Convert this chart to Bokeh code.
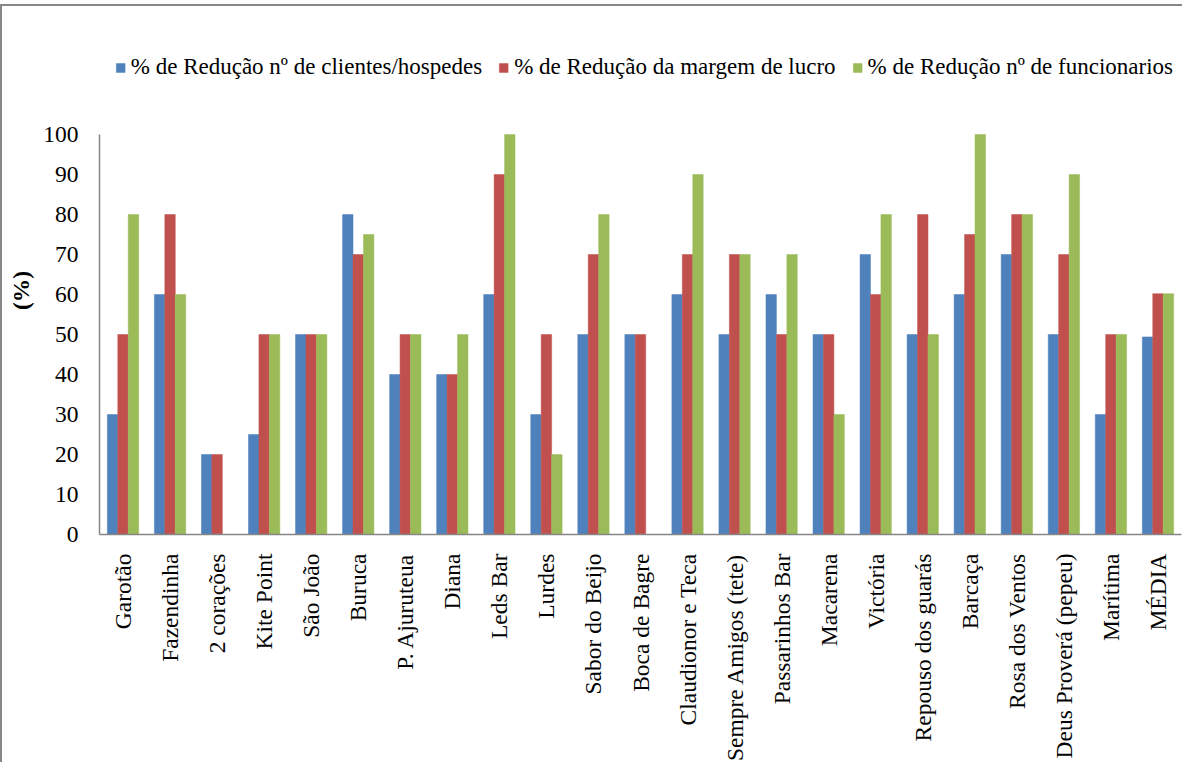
import math
from bokeh.plotting import figure
from bokeh.models import FactorRange, Range1d, Legend, LegendItem
from bokeh.transform import dodge
from bokeh.embed import file_html
from bokeh.resources import INLINE

categories = ["Garotão", "Fazendinha", "2 corações", "Kite Point", "São João", "Buruca",
              "P. Ajuruteua", "Diana", "Leds Bar", "Lurdes", "Sabor do Beijo", "Boca de Bagre",
              "Claudionor e Teca", "Sempre Amigos (tete)", "Passarinhos Bar", "Macarena",
              "Victória", "Repouso dos guarás", "Barcaça", "Rosa dos Ventos",
              "Deus Proverá (pepeu)", "Marítima", "MÉDIA"]
clientes = [30, 60, 20, 25, 50, 80, 40, 40, 60, 30, 50, 50, 60, 50, 60, 50, 70, 50, 60, 70, 50, 30, 49.4]
lucro = [50, 80, 20, 50, 50, 70, 50, 40, 90, 50, 70, 50, 70, 70, 50, 50, 60, 80, 75, 80, 70, 50, 60.2]
funcionarios = [80, 60, 0, 50, 50, 75, 50, 50, 100, 20, 80, 0, 90, 70, 70, 30, 80, 50, 100, 80, 90, 50, 60.2]
series_names = ["% de Redução nº de clientes/hospedes",
                "% de Redução da margem de lucro",
                "% de Redução nº de funcionarios"]
colors = ["#4F81BD", "#C0504D", "#9BBB59"]
y_ticks = list(range(0, 101, 10))

FONT = "serif"
FS = "23.5px"
data = dict(cat=categories, a=clientes, b=lucro, c=funcionarios)

# frame extends above 100 to leave room for the legend inside the plot area
p = figure(x_range=FactorRange(*categories, range_padding=0), y_range=Range1d(0, 122),
           frame_width=1082, frame_height=488, output_backend="svg", toolbar_location=None,
           min_border_left=97, min_border_right=1, min_border_top=40, min_border_bottom=212)

bw = 0.222
rs = []
for key, off, col in zip(["a", "b", "c"], [-bw, 0, bw], colors):
    r = p.vbar(x=dodge("cat", off, range=p.x_range), top=key, width=bw, bottom=0,
               source=data, fill_color=col, line_color=col, line_width=0.5)
    rs.append(r)

p.xgrid.grid_line_color = None
p.ygrid.grid_line_color = None
p.outline_line_color = None
p.background_fill_color = "white"
p.border_fill_color = "white"

p.yaxis.ticker = y_ticks
p.yaxis.bounds = (0, 100)
p.yaxis.axis_line_color = "#868686"
p.yaxis.axis_line_width = 1.5
p.yaxis.major_tick_line_color = None
p.yaxis.minor_tick_line_color = None
p.yaxis.major_label_standoff = 15
p.yaxis.major_label_text_font = FONT
p.yaxis.major_label_text_font_size = FS
p.yaxis.major_label_text_color = "#000000"
p.yaxis.axis_label = "(%)"
p.yaxis.axis_label_text_font = FONT
p.yaxis.axis_label_text_font_style = "bold"
p.yaxis.axis_label_text_font_size = FS
p.yaxis.axis_label_text_color = "#000000"
p.yaxis.axis_label_standoff = 6

p.xaxis.axis_line_color = "#868686"
p.xaxis.axis_line_width = 1.5
p.xaxis.major_tick_line_color = None
p.xaxis.minor_tick_line_color = None
p.xaxis.major_label_orientation = math.pi / 2
p.xaxis.major_label_standoff = 13
p.xaxis.major_label_text_font = FONT
p.xaxis.major_label_text_font_size = FS
p.xaxis.major_label_text_color = "#010101"

legend = Legend(items=[LegendItem(label=n, renderers=[r]) for n, r in zip(series_names, rs)],
                orientation="horizontal", location="top_right", margin=8,
                label_text_font=FONT, label_text_font_size="23px", label_text_color="#000000",
                glyph_width=11, glyph_height=11, spacing=16, label_standoff=5,
                padding=2, border_line_color=None, background_fill_alpha=0)
p.add_layout(legend, "center")

p.styles = {"border-left": "2px solid #878787", "border-top": "2px solid #878787",
            "margin-top": "4px"}

open("out.html", "w").write(file_html(p, INLINE))
